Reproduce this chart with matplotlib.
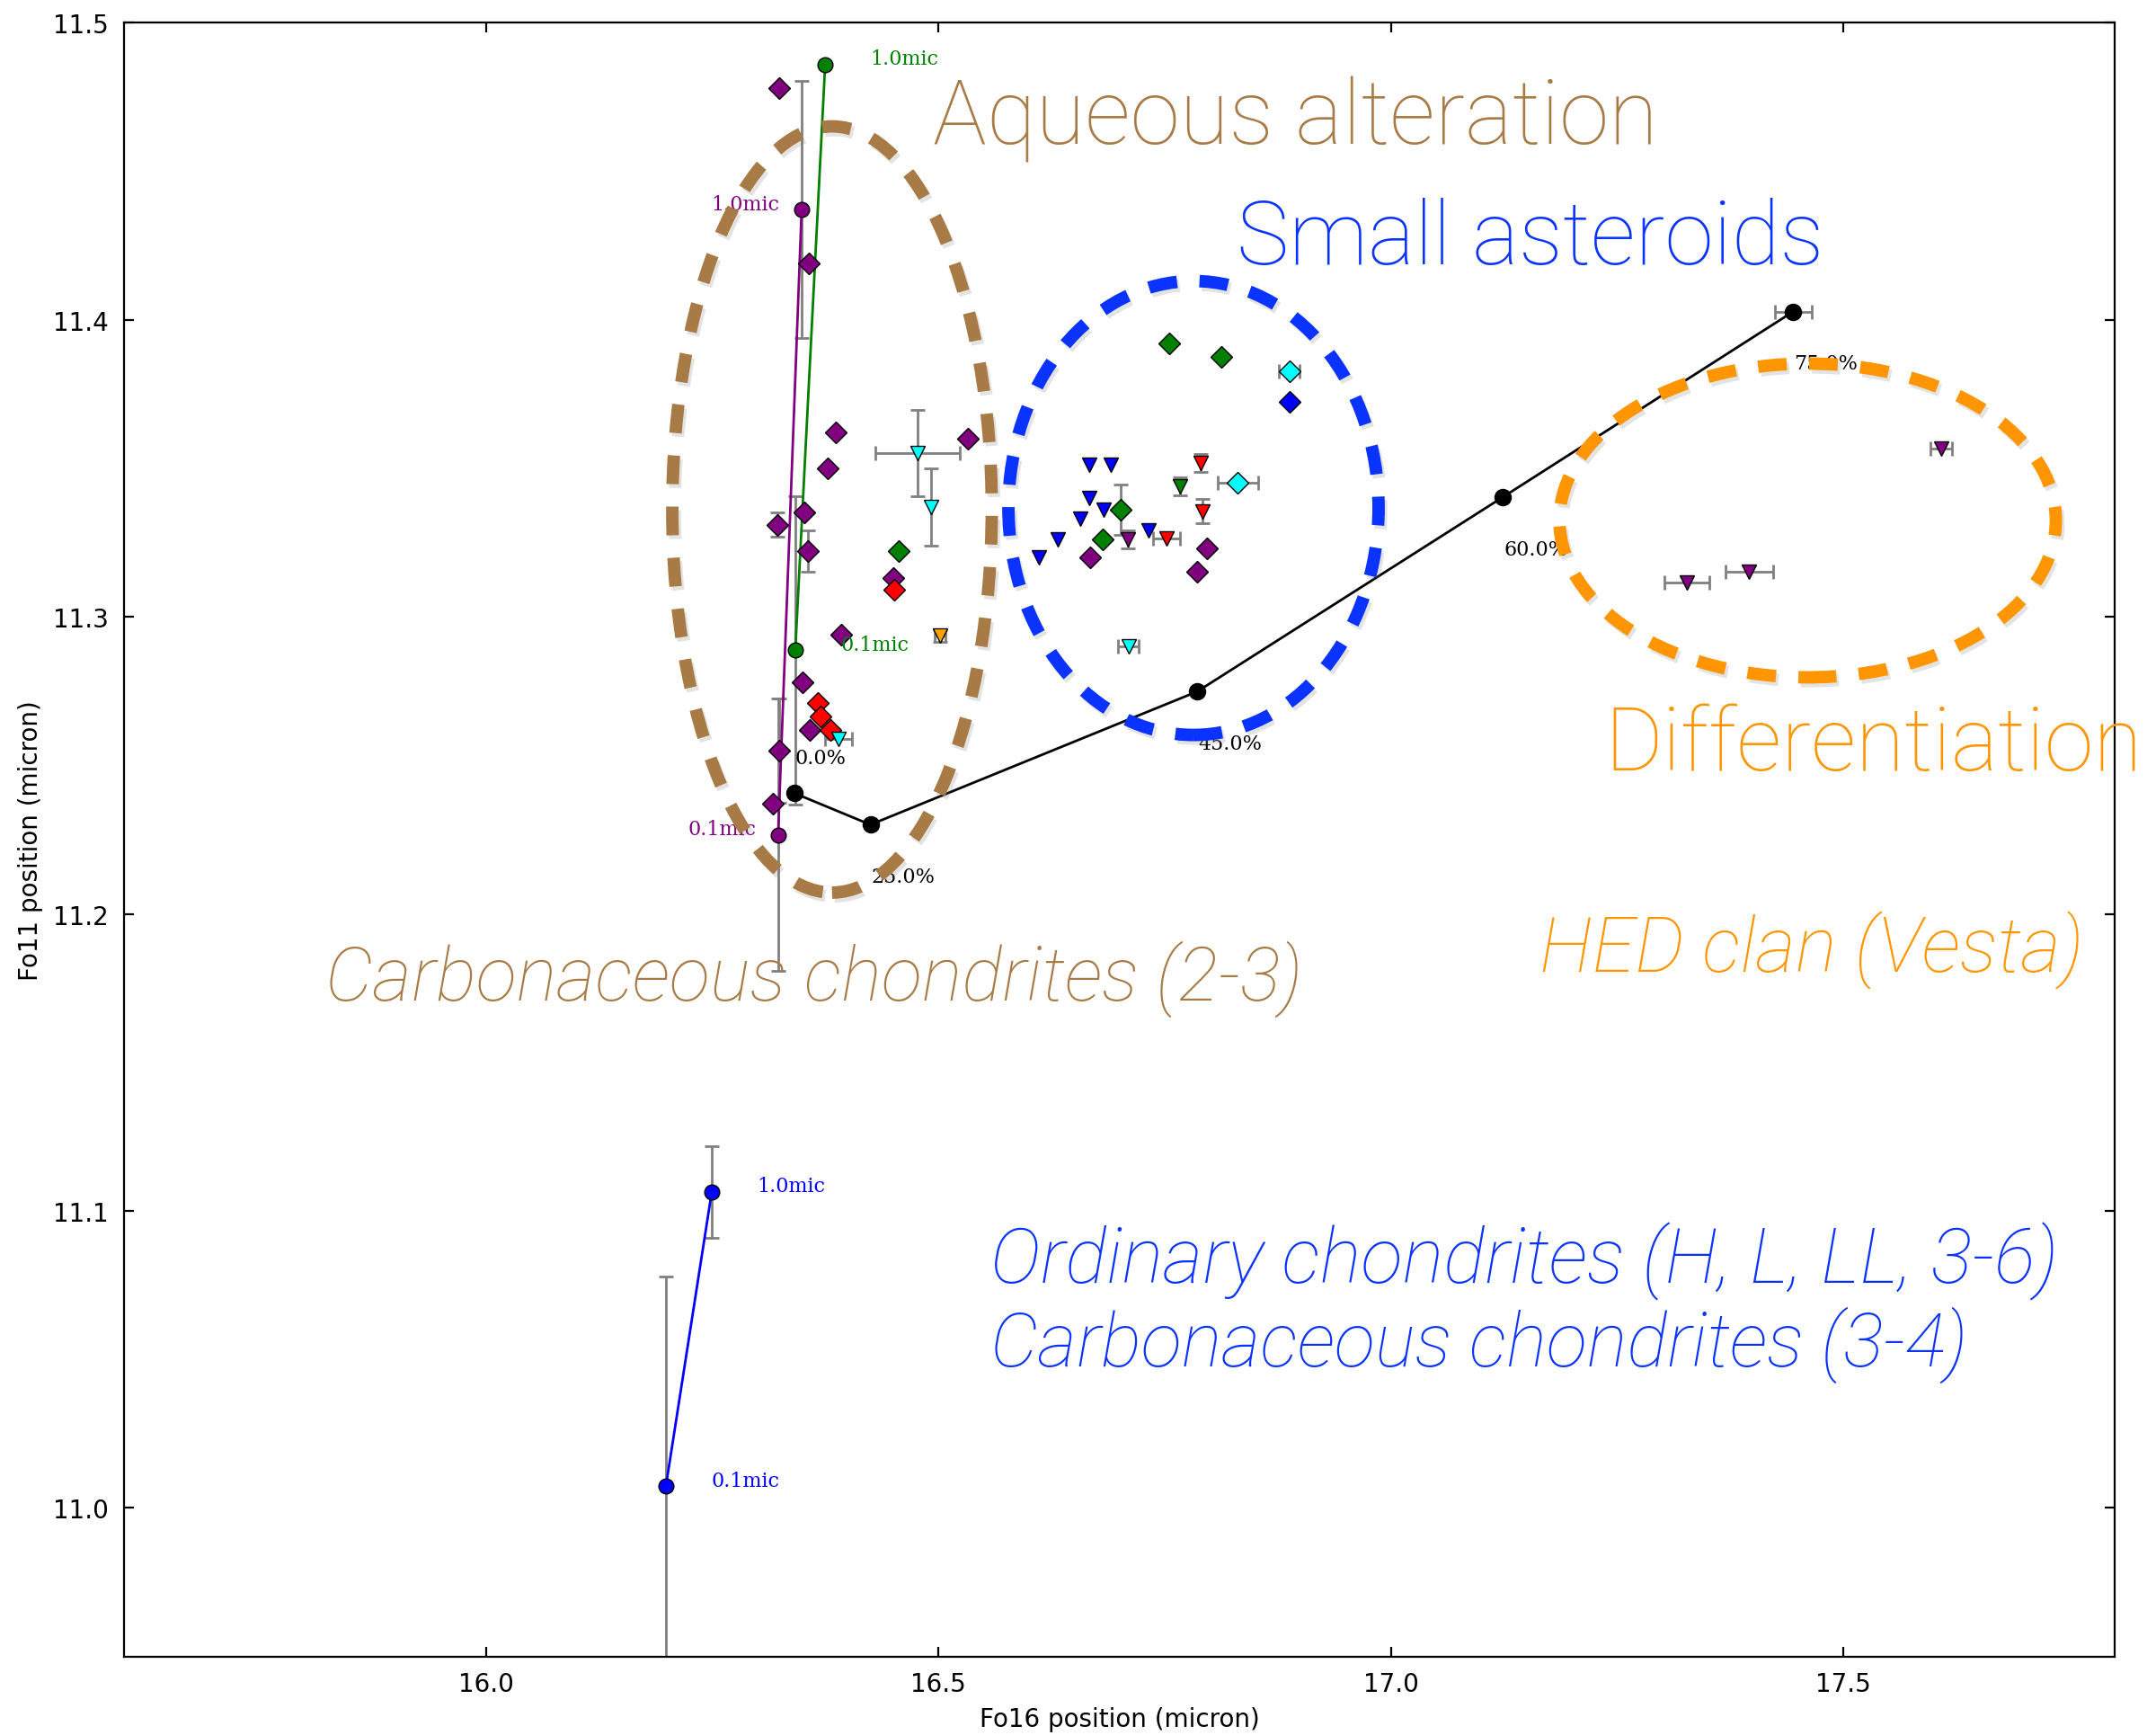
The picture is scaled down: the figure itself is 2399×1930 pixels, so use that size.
import matplotlib
matplotlib.use('Agg')
import matplotlib.pyplot as plt
import matplotlib.patheffects as pe
from matplotlib.patches import Ellipse

# grain size tracks, 0.1 mic -> 1.0 mic
grain_labels = ['0.1mic', '1.0mic']
purple_trk_x = [16.323, 16.349]
purple_trk_y = [11.2266, 11.437]
purple_trk_yerr = [0.0458, 0.0433]
green_trk_x = [16.342, 16.375]
green_trk_y = [11.2887, 11.4858]
green_trk_yerr = [0.0518, 0.0]
blue_trk_x = [16.199, 16.2497]
blue_trk_y = [11.0073, 11.1064]
blue_trk_yerr = [0.0707, 0.0154]

# mixing track
mix_labels = ['0.0%', '25.0%', '45.0%', '60.0%', '75.0%']
mix_x = [16.341, 16.425, 16.786, 17.124, 17.4446]
mix_y = [11.2406, 11.230, 11.2748, 11.3403, 11.4027]
mix_xerr = [0, 0, 0, 0, 0.0206]

# samples (diamonds)
purple_d_x = [16.324, 16.357, 16.387, 16.533, 16.378, 16.352, 16.322, 16.356, 16.450,
              16.393, 16.350, 16.358, 16.324, 16.317, 16.668, 16.797, 16.786]
purple_d_y = [11.478, 11.419, 11.362, 11.360, 11.350, 11.335, 11.331, 11.322, 11.313,
              11.294, 11.278, 11.262, 11.255, 11.237, 11.320, 11.323, 11.315]
purple_d_yerr = [0, 0, 0, 0, 0, 0, 0.004, 0.007, 0, 0, 0, 0, 0.0175, 0, 0, 0, 0]
red_d_x = [16.451, 16.367, 16.370, 16.381]
red_d_y = [11.309, 11.271, 11.2665, 11.262]
green_d_x = [16.456, 16.755, 16.813, 16.702, 16.682]
green_d_y = [11.322, 11.392, 11.3875, 11.336, 11.326]
green_d_yerr = [0, 0, 0, 0.0085, 0]
cyan_d_x = [16.888, 16.831]
cyan_d_y = [11.3826, 11.345]
cyan_d_xerr = [0.0115, 0.022]
blue_d_x = [16.888]
blue_d_y = [11.3724]

# samples (triangles)
blue_t_x = [16.6665, 16.691, 16.667, 16.683, 16.657, 16.732, 16.632, 16.611]
blue_t_y = [11.351, 11.351, 11.340, 11.336, 11.333, 11.329, 11.326, 11.320]
red_t_x = [16.790, 16.792, 16.752]
red_t_y = [11.3517, 11.3355, 11.3262]
red_t_xerr = [0, 0, 0.015]
red_t_yerr = [0.003, 0.004, 0]
green_t_x = [16.767]
green_t_y = [11.344]
green_t_yerr = [0.003]
purple_t_x = [16.709, 17.608, 17.327, 17.396]
purple_t_y = [11.326, 11.3566, 11.3114, 11.3152]
purple_t_xerr = [0, 0.012, 0.025, 0.026]
purple_t_yerr = [0.003, 0, 0, 0]
cyan_t_x = [16.477, 16.492, 16.390, 16.710]
cyan_t_y = [11.355, 11.337, 11.259, 11.290]
cyan_t_xerr = [0.047, 0, 0.015, 0.011]
cyan_t_yerr = [0.0145, 0.013, 0, 0]
orange_t_x = [16.502]
orange_t_y = [11.2936]
orange_t_xerr = [0.006]
orange_t_yerr = [0.002]

# regions: center x, center y, width, height
ell_aqueous = (16.3826, 11.3361, 0.353, 0.2579)
ell_small = (16.782, 11.3366, 0.409, 0.1528)
ell_diff = (17.4606, 11.3324, 0.5485, 0.1056)

brown = '#A87B46'
blue2 = '#0A33FF'
orange2 = '#FF9500'

fig = plt.figure(figsize=(2399 / 200, 1931 / 200), dpi=200)
ax = fig.add_axes([0.0574, 0.0452, 0.9235, 0.9413])


def errs(x, y, xerr=None, yerr=None):
    n = len(x)
    xerr = xerr if xerr is not None else [0] * n
    yerr = yerr if yerr is not None else [0] * n
    for i in range(n):
        if xerr[i] > 0 or yerr[i] > 0:
            ax.errorbar(x[i], y[i], xerr=xerr[i] if xerr[i] > 0 else None,
                        yerr=yerr[i] if yerr[i] > 0 else None, fmt='none',
                        ecolor='gray', elinewidth=1, capsize=3, capthick=1, zorder=1)


def group(x, y, marker, color, xerr=None, yerr=None):
    errs(x, y, xerr, yerr)
    ax.plot(x, y, linestyle='none', marker=marker, color=color, markersize=6,
            markeredgecolor='k', markeredgewidth=0.5, zorder=4)


# grain size tracks
for tx, ty, te, col, dx in [(purple_trk_x, purple_trk_y, purple_trk_yerr, 'purple', -0.1),
                            (green_trk_x, green_trk_y, green_trk_yerr, 'green', 0.05),
                            (blue_trk_x, blue_trk_y, blue_trk_yerr, 'blue', 0.05)]:
    errs(tx, ty, None, te)
    ax.plot(tx, ty, '-o', color=col, lw=1, markersize=6, markeredgecolor='k',
            markeredgewidth=0.5, zorder=3)
    for i in range(2):
        ax.text(tx[i] + dx, ty[i] + 0.002, grain_labels[i], color=col, family='DejaVu Serif',
                fontsize=8, ha='left', va='center', zorder=5)

# mixing track
errs(mix_x, mix_y, mix_xerr, None)
ax.plot(mix_x, mix_y, '-o', color='k', lw=1, markersize=6, zorder=3)
for i in range(len(mix_x)):
    dy = 0.012 if i == 0 else -0.0175
    ax.text(mix_x[i] + 0.001, mix_y[i] + dy, mix_labels[i], color='k', family='DejaVu Serif',
            fontsize=8, ha='left', va='center', zorder=2)

group(purple_d_x, purple_d_y, 'D', 'purple', yerr=purple_d_yerr)
group(red_d_x, red_d_y, 'D', 'red')
group(green_d_x, green_d_y, 'D', 'green', yerr=green_d_yerr)
group(cyan_d_x, cyan_d_y, 'D', 'cyan', xerr=cyan_d_xerr)
group(blue_d_x, blue_d_y, 'D', 'blue')
group(blue_t_x, blue_t_y, 'v', 'blue')
group(red_t_x, red_t_y, 'v', 'red', xerr=red_t_xerr, yerr=red_t_yerr)
group(green_t_x, green_t_y, 'v', 'green', yerr=green_t_yerr)
group(purple_t_x, purple_t_y, 'v', 'purple', xerr=purple_t_xerr, yerr=purple_t_yerr)
group(cyan_t_x, cyan_t_y, 'v', 'cyan', xerr=cyan_t_xerr, yerr=cyan_t_yerr)
group(orange_t_x, orange_t_y, 'v', 'orange', xerr=orange_t_xerr, yerr=orange_t_yerr)

# dashed regions with a soft shadow
shadow = [pe.SimpleLineShadow(offset=(1.0, -1.5), shadow_color='gray', alpha=0.22), pe.Normal()]
for (cx, cy, w, h), col in [(ell_aqueous, brown), (ell_small, blue2), (ell_diff, orange2)]:
    e = Ellipse((cx, cy), w, h, fill=False, edgecolor=col, lw=5, linestyle=(0, (2.3, 1.8)),
                capstyle='butt', zorder=6, path_effects=shadow)
    ax.add_patch(e)

big = dict(family=['Roboto', 'DejaVu Sans'], weight='light', clip_on=False, va='baseline', zorder=7)
ax.text(16.494, 11.4593, 'Aqueous alteration', color=brown, fontsize=36, **big)
ax.text(16.830, 11.419, 'Small asteroids', color=blue2, fontsize=35.4, **big)
ax.text(17.236, 11.2486, 'Differentiation', color=orange2, fontsize=35.6, **big)
ax.text(17.164, 11.1806, 'HED clan (Vesta)', color=orange2, fontsize=31, style='italic', **big)
ax.text(15.823, 11.1713, 'Carbonaceous chondrites (2-3)', color=brown, fontsize=30.3,
        style='italic', **big)
ax.text(16.558, 11.0759, 'Ordinary chondrites (H, L, LL, 3-6)', color=blue2, fontsize=31,
        style='italic', **big)
ax.text(16.558, 11.0481, 'Carbonaceous chondrites (3-4)', color=blue2, fontsize=30.3,
        style='italic', **big)

ax.set_xlim(15.6, 17.8)
ax.set_ylim(10.95, 11.5)
ax.set_xticks([16.0, 16.5, 17.0, 17.5])
ax.set_yticks([11.0, 11.1, 11.2, 11.3, 11.4, 11.5])
ax.tick_params(direction='in', top=True, right=True, labelsize=10, length=4, pad=6)
ax.set_xlabel('Fo16 position (micron)', fontsize=10)
ax.set_ylabel('Fo11 position (micron)', fontsize=10)

fig.savefig('out.png', dpi=200, facecolor='white')
